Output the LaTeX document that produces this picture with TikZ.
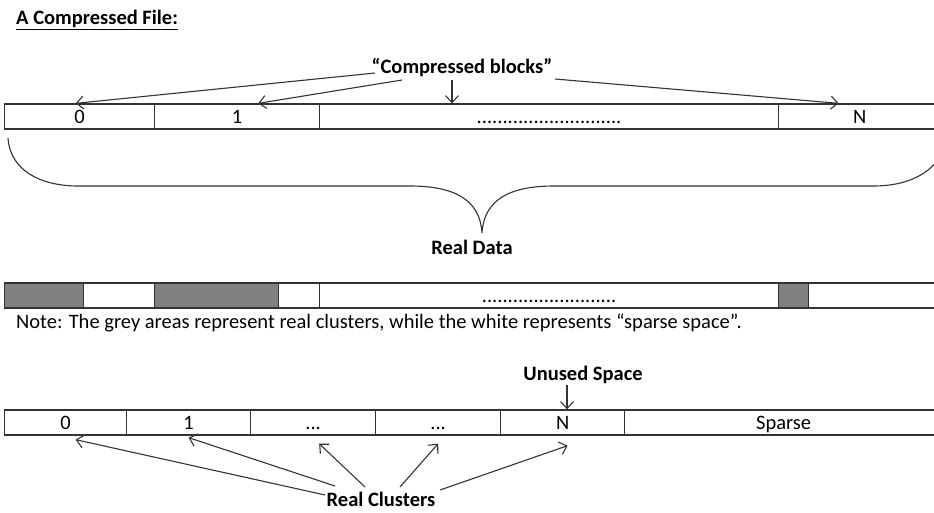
\documentclass[tikz,border=0pt]{standalone}
\usepackage{fontspec}
\setmainfont{Carlito}
\usetikzlibrary{arrows.meta}
\tikzstyle{cell}=[draw=black!80,line width=1.3pt,minimum height=25pt,
  inner sep=0pt,text height=14pt,text depth=0pt,anchor=west,
  font=\fontsize{20.5}{22}\selectfont]
\tikzstyle{used}=[cell,fill=black!50]
\tikzstyle{label}=[inner sep=0pt,font=\fontsize{20.5}{22}\selectfont\bfseries]
\tikzstyle{arr}=[line width=1.1pt,draw=black!80,
  -{Straight Barb[length=7pt,width=13pt,line width=1.1pt]}]

\begin{document}
\begin{tikzpicture}[x=1pt,y=-1pt]
  \useasboundingbox (0,0) rectangle (934,512);
  \clip (0,0) rectangle (934,512);

  % Title.
  \node[label,anchor=west] (title) at (16,20) {\underline{A Compressed File:}};

  % Compressed blocks.
  \node[cell,minimum width=150pt] (b0) at (4,116.5) {0};
  \node[cell,minimum width=165pt] (b1) at (154,116.5) {1};
  \node[cell,minimum width=459pt] (bd) at (319,116.5)
    {............................};
  \node[cell,minimum width=162pt] (bN) at (778,116.5) {N};

  % Blocks label and arrows.
  \node[label] (cb) at (462,68) {“Compressed blocks”};
  \coordinate (cbA) at (375,73);
  \coordinate (cbB) at (402,80);
  \coordinate (cbC) at (555,79);
  \coordinate (cbD) at (452,80);
  \draw[arr] (cbA) -- ([xshift=-4pt]b0.north);
  \draw[arr] (cbB) -- ([xshift=21pt]b1.north);
  \draw[arr] (cbC) -- ([xshift=-21pt]bN.north);
  \draw[arr] (cbD) -- (cbD |- bd.north);

  % Brace.
  \draw[line width=1.1pt,draw=black!80] (8,138)
    .. controls (10,170) and (40,186) .. (78,186) -- (410,186)
    .. controls (455,186) and (480,200) .. (482,233)
    .. controls (484,200) and (509,186) .. (554,186) -- (873,186)
    .. controls (915,186) and (940,168) .. (950,138);
  \node[label] (real) at (472,247) {Real Data};

  % Clusters.
  \node[used,minimum width=79pt] (c0) at (4,295.5) {};
  \node[cell,minimum width=71pt] (s0) at (83,295.5) {};
  \node[used,minimum width=124pt] (c1) at (154,295.5) {};
  \node[cell,minimum width=41pt] (s1) at (278,295.5) {};
  \node[cell,minimum width=459pt] (cd) at (319,295.5)
    {..........................};
  \node[used,minimum width=30pt] (c2) at (778,295.5) {};
  \node[cell,minimum width=152pt] (s2) at (808,295.5) {};

  % Note.
  \node[inner sep=0pt,anchor=west,font=\fontsize{20.5}{22}\selectfont] (note)
    at (16,323) {Note: The grey areas represent real clusters, while the white represents “sparse space”.};

  % Sparse file.
  \node[cell,minimum width=122pt] (f0) at (4,422.5) {0};
  \node[cell,minimum width=124pt] (f1) at (126,422.5) {1};
  \node[cell,minimum width=125pt] (f2) at (250,422.5) {...};
  \node[cell,minimum width=125pt] (f3) at (375,422.5) {...};
  \node[cell,minimum width=124pt] (fN) at (500,422.5) {N};
  \node[cell,minimum width=318pt] (fs) at (624,422.5) {Sparse};

  % Unused space.
  \node[label] (unused) at (583,375) {Unused Space};
  \coordinate (un) at (567,385);
  \draw[arr] (un) -- (un |- fN.north);

  % Real clusters.
  \node[label] (rc) at (381,499) {Real Clusters};
  \coordinate (rcA) at (325,495);
  \coordinate (rcB) at (335,486);
  \coordinate (rcC) at (365,487);
  \coordinate (rcD) at (400,487);
  \coordinate (rcE) at (440,490);
  \draw[arr] (rcA) -- ([xshift=10pt,yshift=-4pt]f0.south);
  \draw[arr] (rcB) -- ([yshift=-2pt]f1.south);
  \draw[arr] (rcC) -- ([xshift=6pt,yshift=-8pt]f2.south);
  \draw[arr] (rcD) -- ([yshift=-8pt]f3.south);
  \draw[arr] (rcE) -- ([xshift=5pt,yshift=-10pt]fN.south);
\end{tikzpicture}
\end{document}
